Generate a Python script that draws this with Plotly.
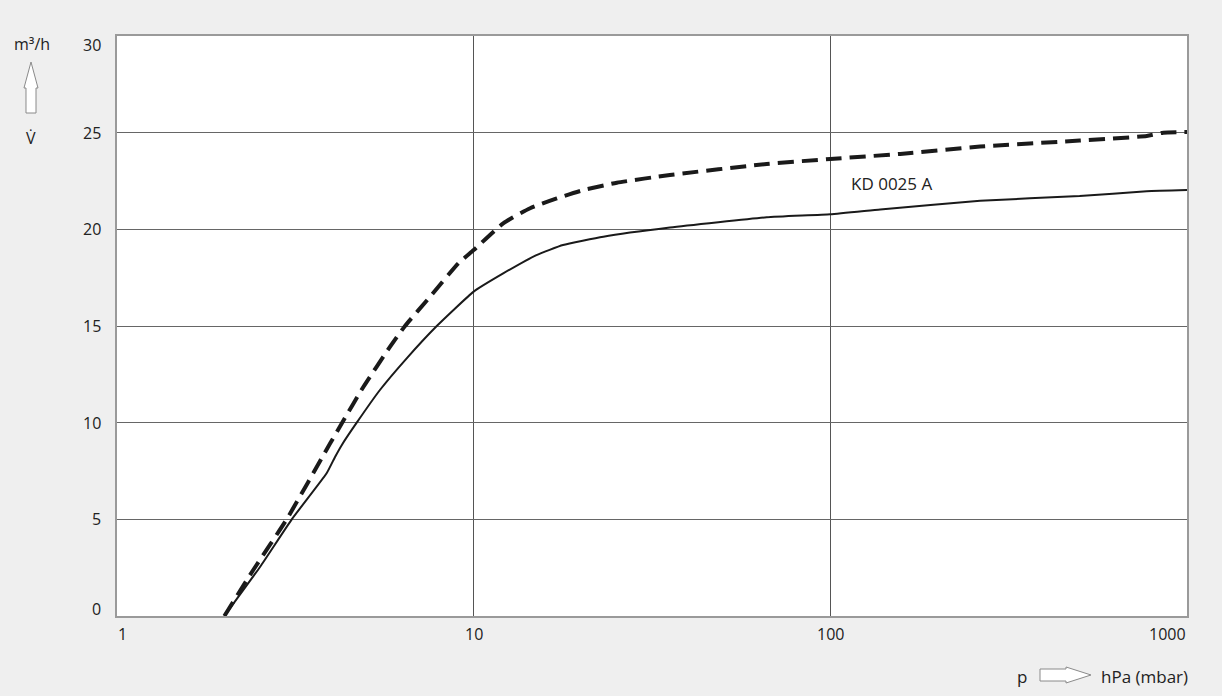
import math
import plotly.graph_objects as go

# ---- data ----
p_solid = [2.0, 2.52, 3.09, 3.87, 4.09, 4.27, 4.70, 5.46, 6.49, 7.88, 10.0, 12.1, 15.0,
           17.8, 23.1, 35.5, 66.3, 100, 138, 263, 500, 771, 1000]
v_solid = [0.0, 2.55, 5.0, 7.38, 8.24, 8.85, 10.0, 11.69, 13.33, 15.0, 16.78, 17.72, 18.67,
           19.19, 19.62, 20.09, 20.62, 20.78, 21.03, 21.48, 21.72, 21.97, 22.03]

p_dash = [2.0, 2.41, 2.99, 3.96, 4.27, 4.91, 5.83, 6.42, 7.55, 9.06, 10.0, 12.1, 14.4, 17.1,
          20.3, 25.2, 35.5, 66.3, 100, 157, 263, 500, 771, 858, 1000]
v_dash = [0.0, 2.38, 5.0, 8.93, 9.97, 11.86, 13.93, 15.0, 16.52, 18.24, 18.93, 20.31, 21.09, 21.6,
          22.03, 22.41, 22.81, 23.38, 23.64, 23.9, 24.28, 24.59, 24.83, 25.0, 25.03]

x_tickvals = [1, 10, 100, 1000]
x_ticktext = ["1", "10", "100", "1000"]
y_tickvals = [0, 5, 10, 15, 20, 25, 30]
y_ticktext = ["0", "5", "10", "15", "20", "25", "30"]

curve_label = "KD 0025 A"
label_pos = (113, 22.35)

W, H = 1222, 696
L, R, T, B = 117, 35, 36, 80
PW, PH = W - L - R, H - T - B

def px(x):
    return (x - L) / PW

def py(y):
    return (H - B - y) / PH

FONT = "Open Sans"
TXT = "#222222"
FS = 16
FL = 17

fig = go.Figure()
fig.add_trace(go.Scatter(x=p_dash, y=v_dash, mode="lines",
                         line=dict(color="#1a1a1a", width=4, dash="16px,8px", shape="spline", smoothing=0.5),
                         hoverinfo="x+y", showlegend=False))
fig.add_trace(go.Scatter(x=p_solid, y=v_solid, mode="lines",
                         line=dict(color="#1a1a1a", width=2, shape="spline", smoothing=0.4),
                         hoverinfo="x+y", showlegend=False))

annotations = []
# x tick labels
for i, (v, t) in enumerate(zip(x_tickvals, x_ticktext)):
    anchor = "left" if i == 0 else ("right" if i == len(x_tickvals) - 1 else "center")
    annotations.append(dict(x=math.log10(v), y=0, xref="x", yref="paper", text=t, showarrow=False,
                            xanchor=anchor, yanchor="top", yshift=-6, borderpad=0,
                            font=dict(family=FONT, size=FS, color=TXT)))
# y tick labels
for i, (v, t) in enumerate(zip(y_tickvals, y_ticktext)):
    anchor = "bottom" if i == 0 else ("top" if i == len(y_tickvals) - 1 else "middle")
    annotations.append(dict(x=0, y=v, xref="paper", yref="y", text=t, showarrow=False,
                            xanchor="right", yanchor=anchor, xshift=-15, borderpad=0,
                            yshift=(3 if i == len(y_tickvals) - 1 else (-5 if i == 0 else 0)),
                            font=dict(family=FONT, size=FS, color=TXT)))
# curve label
annotations.append(dict(x=math.log10(label_pos[0]), y=label_pos[1], xref="x", yref="y", text=curve_label,
                        showarrow=False, xanchor="left", yanchor="middle",
                        font=dict(family=FONT, size=FL, color=TXT)))
# axis titles
annotations.append(dict(x=px(32), y=py(44), xref="paper", yref="paper", text="m³/h", showarrow=False,
                        xanchor="center", yanchor="middle", font=dict(family=FONT, size=FS, color=TXT)))
annotations.append(dict(x=px(31), y=py(138), xref="paper", yref="paper", text="V\u0307", showarrow=False,
                        xanchor="center", yanchor="middle", font=dict(family=FONT, size=FS, color=TXT)))
annotations.append(dict(x=px(1022), y=py(676), xref="paper", yref="paper", text="p", showarrow=False,
                        xanchor="center", yanchor="middle", font=dict(family=FONT, size=FL, color=TXT)))
annotations.append(dict(x=px(1099), y=py(676), xref="paper", yref="paper", text="hPa (mbar)", showarrow=False,
                        xanchor="left", yanchor="middle", font=dict(family=FONT, size=FL, color=TXT)))

def path(points):
    return "M " + " L ".join(f"{px(a):.5f},{py(b):.5f}" for a, b in points) + " Z"

up_arrow = [(26, 113), (26, 88), (24, 88), (31, 62), (38, 88), (36, 88), (36, 113)]
right_arrow = [(1040, 669), (1066, 669), (1066, 667), (1091, 675), (1066, 683), (1066, 681), (1040, 681)]

shapes = [
    dict(type="path", xref="paper", yref="paper", path=path(up_arrow),
         line=dict(color="#8a8a8a", width=1), fillcolor="white", layer="above"),
    dict(type="path", xref="paper", yref="paper", path=path(right_arrow),
         line=dict(color="#8a8a8a", width=1), fillcolor="white", layer="above"),
]

fig.update_layout(
    width=W, height=H,
    margin=dict(l=L, r=R, t=T, b=B),
    paper_bgcolor="#efefef", plot_bgcolor="white",
    font=dict(family=FONT, size=FS, color=TXT),
    annotations=annotations, shapes=shapes,
    showlegend=False,
    xaxis=dict(type="log", range=[0, 3], tickvals=x_tickvals, showticklabels=False,
               showgrid=True, gridcolor="#555555", gridwidth=1, zeroline=False,
               showline=True, linecolor="#9a9a9a", linewidth=1.5, mirror=True, ticks=""),
    yaxis=dict(range=[0, 30], tickvals=y_tickvals, showticklabels=False,
               showgrid=True, gridcolor="#666666", gridwidth=1, zeroline=False,
               showline=True, linecolor="#9a9a9a", linewidth=1.5, mirror=True, ticks=""),
)

fig.write_html("out.html", config={"displayModeBar": False},
               post_script="document.body.style.margin='0';document.body.style.background='#efefef';")
